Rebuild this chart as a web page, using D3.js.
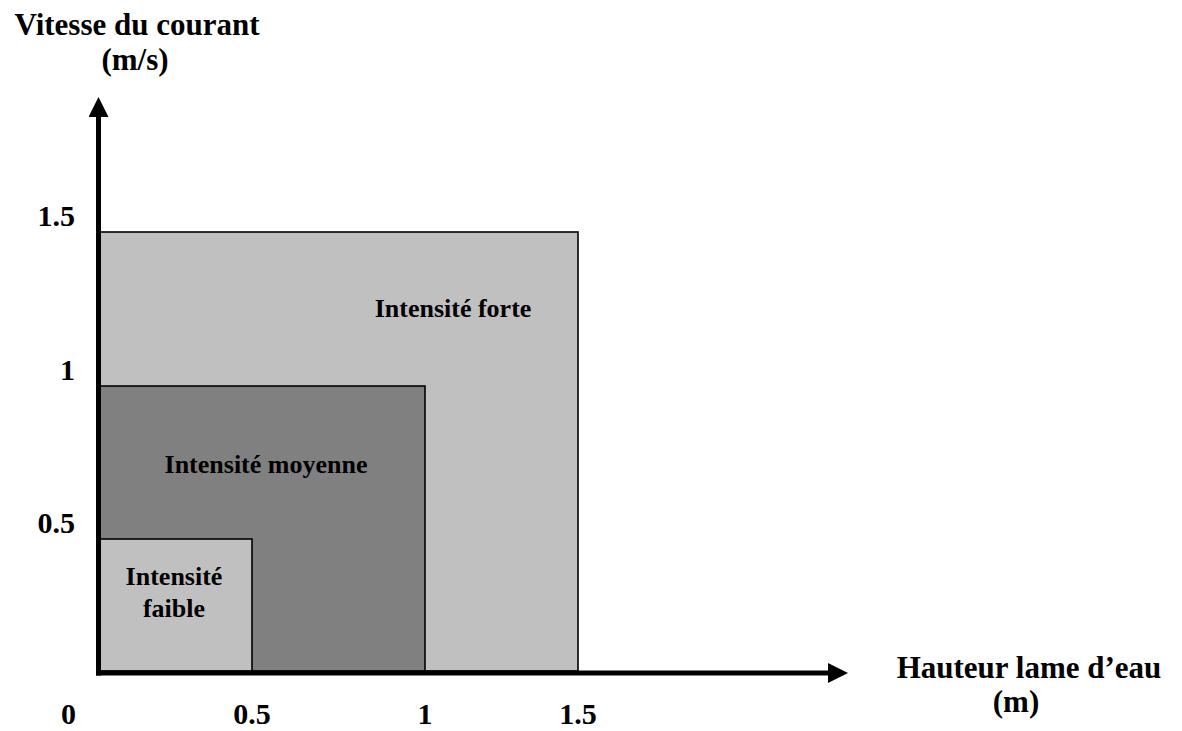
<!DOCTYPE html>
<head>
  <meta charset = "utf-8">
  <title>Intensité</title>
  <script src = "https://cdn.jsdelivr.net/npm/d3@7"></script>
  <style>
    body { margin: 0; background: #fff; }
    text { font-family: "Liberation Serif", "Times New Roman", serif; font-weight: bold; fill: #000; }
  </style>
</head>

<body>

  <script type="text/javascript">
    var WIDTH = 1182;
    var HEIGHT = 731;

    // classes d'intensité : limites (hauteur, vitesse), couleur, libellé
    var zoneNames  = ["Intensité forte", "Intensité moyenne", "Intensité faible"];
    var zoneHeight = [1.5, 1, 0.5];   // hauteur lame d'eau (m)
    var zoneSpeed  = [1.5, 1, 0.5];   // vitesse du courant (m/s)
    var zoneFill   = ["#c0c0c0", "#808080", "#c0c0c0"];
    var xTicks = ["0.5", "1", "1.5"];
    var yTicks = ["0.5", "1", "1.5"];

    var svg = d3.select("body").append("svg")
                .attr("width",  WIDTH)
                .attr("height", HEIGHT);

    // échelles (le dessin d'origine n'est pas tout à fait régulier)
    var x = d3.scaleLinear().domain([0, 0.5, 1, 1.5]).range([100, 252, 425, 578]);
    var y = d3.scaleLinear().domain([0, 0.5, 1, 1.5]).range([671, 539, 386, 232]);

    var defs = svg.append("defs");
    defs.append("marker")
        .attr("id", "arrow")
        .attr("viewBox", "0 0 20 20")
        .attr("refX", 0).attr("refY", 10)
        .attr("markerWidth", 20).attr("markerHeight", 20)
        .attr("markerUnits", "userSpaceOnUse")
        .attr("orient", "auto")
        .append("path")
        .attr("d", "M0,0 L20,10 L0,20 Z")
        .attr("fill", "#000");

    //zones
    svg.selectAll("rect.zone")
       .data(zoneNames)
       .enter().append("rect")
       .attr("class", "zone")
       .attr("x", x(0))
       .attr("y", function(d, i){ return y(zoneSpeed[i]); })
       .attr("width", function(d, i){ return x(zoneHeight[i]) - x(0); })
       .attr("height", function(d, i){ return y(0) - y(zoneSpeed[i]); })
       .attr("fill", function(d, i){ return zoneFill[i]; })
       .attr("stroke", "#000")
       .attr("stroke-width", 1.6);

    //axes
    svg.append("line")
       .attr("x1", x(0) - 4).attr("y1", y(0) + 2)
       .attr("x2", 828).attr("y2", y(0) + 2)
       .attr("stroke", "#000").attr("stroke-width", 5)
       .attr("marker-end", "url(#arrow)");
    svg.append("line")
       .attr("x1", x(0) - 1.5).attr("y1", y(0) + 4.5)
       .attr("x2", x(0) - 1.5).attr("y2", 117)
       .attr("stroke", "#000").attr("stroke-width", 5)
       .attr("marker-end", "url(#arrow)");

    //graduations
    svg.selectAll("text.xtick")
       .data(xTicks)
       .enter().append("text")
       .attr("class", "xtick")
       .attr("x", function(d){ return x(+d); })
       .attr("y", 724)
       .attr("text-anchor", "middle")
       .attr("font-size", 30)
       .text(function(d){ return d; });

    svg.selectAll("text.ytick")
       .data(yTicks)
       .enter().append("text")
       .attr("class", "ytick")
       .attr("x", 75)
       .attr("y", function(d){ return y(+d) - 6; })
       .attr("text-anchor", "end")
       .attr("font-size", 30)
       .text(function(d){ return d; });

    svg.append("text")
       .attr("x", 76).attr("y", 724)
       .attr("text-anchor", "end")
       .attr("font-size", 30)
       .text("0");

    //titres des axes
    svg.append("text").attr("x", 137).attr("y", 35).attr("text-anchor", "middle")
       .attr("font-size", 31).text("Vitesse du courant");
    svg.append("text").attr("x", 135).attr("y", 70).attr("text-anchor", "middle")
       .attr("font-size", 31).text("(m/s)");
    svg.append("text").attr("x", 1029).attr("y", 678).attr("text-anchor", "middle")
       .attr("font-size", 31).text("Hauteur lame d\u2019eau");
    svg.append("text").attr("x", 1016).attr("y", 712).attr("text-anchor", "middle")
       .attr("font-size", 31).text("(m)");

    //libellés des zones
    var lbl = svg.append("g").attr("font-size", 26).attr("text-anchor", "middle");
    lbl.append("text").attr("x", 453).attr("y", 317).text(zoneNames[0]);
    lbl.append("text").attr("x", 266).attr("y", 473).text(zoneNames[1]);
    var faible = lbl.append("text").attr("x", 174).attr("y", 585);
    faible.append("tspan").attr("x", 174).text("Intensité");
    faible.append("tspan").attr("x", 174).attr("dy", 32).text("faible");
  </script>
</body>
